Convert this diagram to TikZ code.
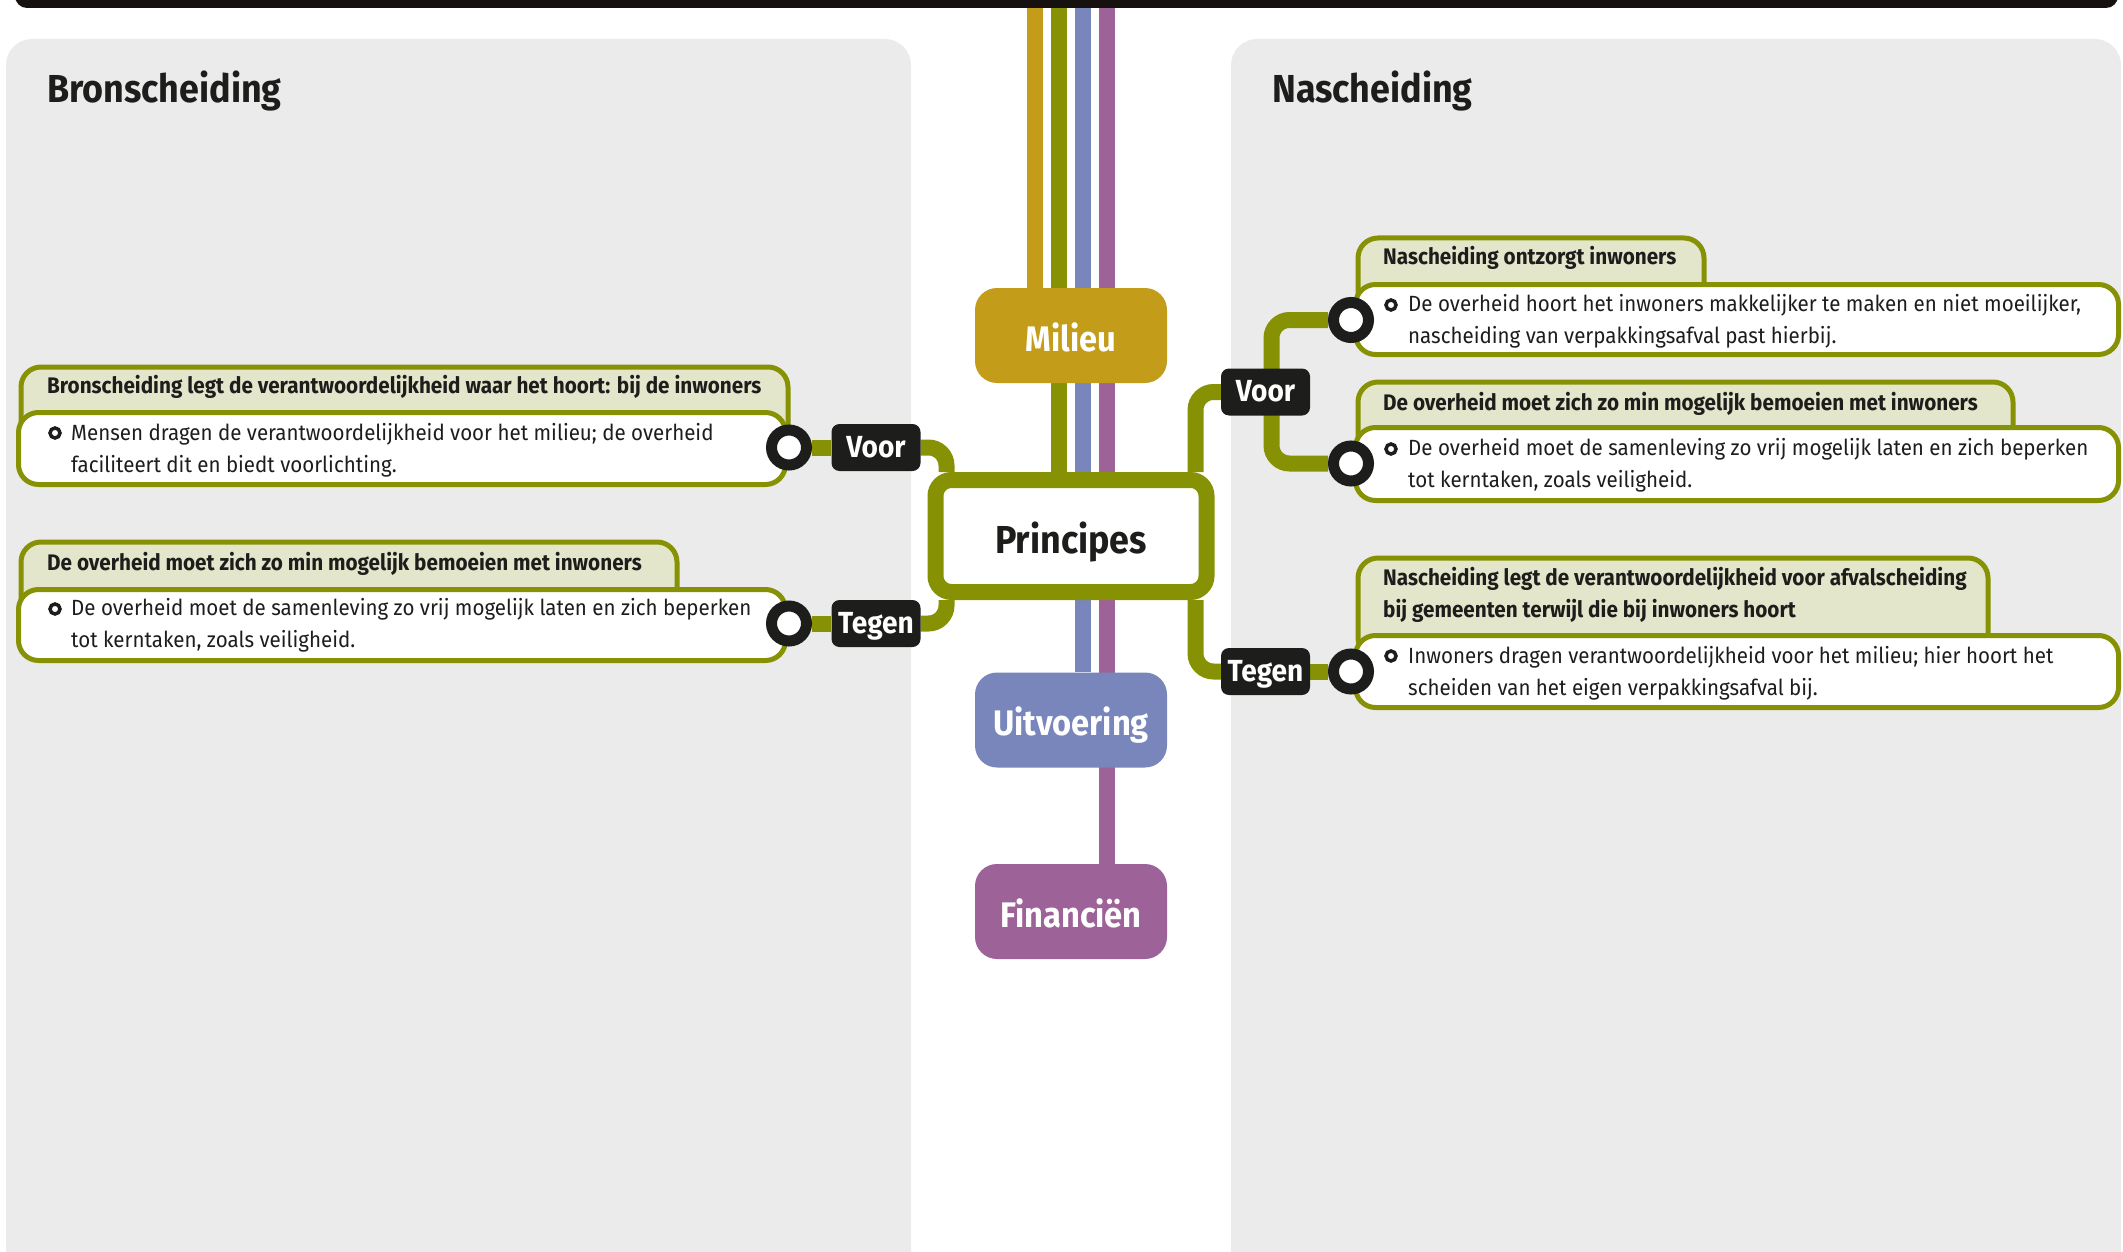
\documentclass[tikz,border=0pt]{standalone}
\usepackage{fontspec}
\setmainfont{Fira Sans}[FakeStretch=0.933]
\newfontfamily\condbold{Fira Sans}[FakeStretch=0.92]
\usetikzlibrary{backgrounds,positioning}

\definecolor{linegreen}{RGB}{134,146,4}
\definecolor{milieugold}{RGB}{195,156,26}
\definecolor{uitvblue}{RGB}{120,134,187}
\definecolor{finpurple}{RGB}{157,99,153}
\definecolor{headfill}{RGB}{228,230,204}
\definecolor{panelgray}{RGB}{235,235,235}
\definecolor{darkbox}{RGB}{29,29,27}
\definecolor{barblack}{RGB}{22,17,14}

\begin{document}
\begin{tikzpicture}[x=1pt,y=-1pt,
  panel/.style={fill=panelgray,rounded corners=26pt},
  title/.style={anchor=base west,inner sep=0pt,text=darkbox,font=\condbold\bfseries\fontsize{39}{40}\selectfont},
  theme/.style={rounded corners=22pt,minimum width=192pt,minimum height=95pt,inner sep=0pt,text height=31pt,text depth=0pt,text=white,font=\condbold\bfseries\fontsize{35.5}{40}\selectfont},
  hub/.style={draw=linegreen,line width=16pt,fill=white,rounded corners=16pt,minimum width=271pt,minimum height=112pt,inner sep=0pt,text height=34pt,text depth=0pt,text=darkbox,font=\condbold\bfseries\fontsize{39}{45}\selectfont},
  tag/.style={fill=darkbox,rounded corners=8pt,minimum width=89pt,minimum height=47pt,inner sep=0pt,text height=19pt,text depth=0pt,text=white,font=\condbold\bfseries\fontsize{30.5}{32}\selectfont},
  knob/.style={circle,draw=darkbox,line width=11pt,fill=white,minimum size=35pt,inner sep=0pt},
  dot/.style={circle,draw=darkbox,line width=3.5pt,fill=white,minimum size=10pt,inner sep=0pt},
  claim/.style={anchor=north west,draw=linegreen,line width=5pt,fill=headfill,rounded corners=20pt,minimum height=80pt,inner sep=0pt},
  reason/.style={draw=linegreen,line width=5pt,fill=white,rounded corners=20pt,minimum width=767pt,inner sep=0pt},
  claimtext/.style={anchor=base west,inner sep=0pt,align=left,text=darkbox,font=\condbold\bfseries\fontsize{22.5}{32}\selectfont},
  reasontext/.style={anchor=base west,inner sep=0pt,align=left,text=darkbox,font=\fontsize{22}{32}\selectfont},
  link/.style={line width=16pt,linegreen,rounded corners=18pt},
  rail/.style={line width=16pt}
]
\useasboundingbox (0,0) rectangle (2123,1252);
\begin{scope}[on background layer]
  \clip (0,0) rectangle (2123,1252);
  \fill[panel] (6,39) rectangle (911,1300);
  \fill[panel] (1231,39) rectangle (2121,1300);
\end{scope}
\begin{scope}
  \clip (0,0) rectangle (2123,1252);
  \fill[barblack,rounded corners=12pt] (15,-30) rectangle (2118,8);
\end{scope}

\node[title] (bron) at (47,103) {Bronscheiding};
\node[title] (na) at (1272,103) {Nascheiding};

\node[theme,fill=milieugold] (milieu) at (1071,335.5) {Milieu};
\node[hub] (princ) at (1071,536) {Principes};
\node[theme,fill=uitvblue] (uitv) at (1071,720) {Uitvoering};
\node[theme,fill=finpurple] (fin) at (1071,911.5) {Financiën};
\coordinate (top) at (1071,0);

\node[claim,minimum width=767pt] (lclaim1) at (18.5,364.5) {};
\node[reason,minimum height=72pt] (lreason1) at (402,448.5) {};
\node[claim,minimum width=656pt] (lclaim2) at (18.5,539.5) {};
\node[reason,minimum height=71pt] (lreason2) at (402,625) {};

\node[claim,minimum width=346pt] (rclaim1) at (1355.5,235.5) {};
\node[reason,minimum width=763pt,minimum height=70pt] (rreason1) at (1737,319.5) {};
\node[claim,minimum width=655pt] (rclaim2) at (1355.5,379.5) {};
\node[reason,minimum width=763pt,minimum height=73pt] (rreason2) at (1737,464) {};
\node[claim,minimum width=630pt,minimum height=100pt] (rclaim3) at (1355.5,555.5) {};
\node[reason,minimum width=763pt,minimum height=72pt] (rreason3) at (1737,671.5) {};

\node[claimtext] (lct1) at (47,393) {Bronscheiding legt de verantwoordelijkheid waar het hoort: bij de inwoners};
\node[dot] (ld1) at (55,433) {};
\node[reasontext] (lrt1) at (71,472) {Mensen dragen de verantwoordelijkheid voor het milieu; de overheid\\faciliteert dit en biedt voorlichting.};
\node[claimtext] (lct2) at (47,570) {De overheid moet zich zo min mogelijk bemoeien met inwoners};
\node[dot] (ld2) at (55,609) {};
\node[reasontext] (lrt2) at (71,647) {De overheid moet de samenleving zo vrij mogelijk laten en zich beperken\\tot kerntaken, zoals veiligheid.};

\node[claimtext] (rct1) at (1383,265) {Nascheiding ontzorgt inwoners};
\node[dot] (rd1) at (1391,305) {};
\node[reasontext] (rrt1) at (1408,343) {De overheid hoort het inwoners makkelijker te maken en niet moeilijker,\\nascheiding van verpakkingsafval past hierbij.};
\node[claimtext] (rct2) at (1383,410) {De overheid moet zich zo min mogelijk bemoeien met inwoners};
\node[dot] (rd2) at (1391,449) {};
\node[reasontext] (rrt2) at (1408,487) {De overheid moet de samenleving zo vrij mogelijk laten en zich beperken\\tot kerntaken, zoals veiligheid.};
\node[claimtext] (rct3) at (1383,617) {Nascheiding legt de verantwoordelijkheid voor afvalscheiding\\bij gemeenten terwijl die bij inwoners hoort};
\node[dot] (rd3) at (1391,656) {};
\node[reasontext] (rrt3) at (1408,695) {Inwoners dragen verantwoordelijkheid voor het milieu; hier hoort het\\scheiden van het eigen verpakkingsafval bij.};

\node[tag] (lvoor) at (876,447.5) {Voor};
\node[tag] (ltegen) at (876,623.5) {Tegen};
\node[tag] (rvoor) at (1265.5,392) {Voor};
\node[tag] (rtegen) at (1265.5,671.5) {Tegen};
\node[knob] (lk1) at (789,447.5) {};
\node[knob] (lk2) at (789,623.5) {};
\node[knob] (rk1) at (1351,320) {};
\node[knob] (rk2) at (1351,463.5) {};
\node[knob] (rk3) at (1351,671.5) {};

\begin{scope}[on background layer]
  \draw[rail,milieugold] ([xshift=-36pt]top) -- ([xshift=-36pt]milieu.north);
  \draw[rail,linegreen] ([xshift=-12pt]top) -- ([xshift=-12pt]princ.north);
  \draw[rail,uitvblue] ([xshift=12pt]top) -- ([xshift=12pt]uitv.north);
  \draw[rail,finpurple] ([xshift=36pt]top) -- ([xshift=36pt]fin.north);
  \draw[link] (lk1) -- (lvoor);
  \draw[link] (lk2) -- (ltegen);
  \draw[link] (lvoor.east) -| ([xshift=19pt]princ.north west);
  \draw[link] (ltegen.east) -| ([xshift=19pt]princ.south west);
  \draw[link] (rvoor.west) -| ([xshift=-19pt]princ.north east);
  \draw[link] (rtegen.west) -| ([xshift=-19pt]princ.south east);
  \draw[link] ([xshift=6pt]rvoor.center) |- (rk1);
  \draw[link] ([xshift=6pt]rvoor.center) |- (rk2);
  \draw[link] (rtegen) -- (rk3);
\end{scope}
\end{tikzpicture}
\end{document}
